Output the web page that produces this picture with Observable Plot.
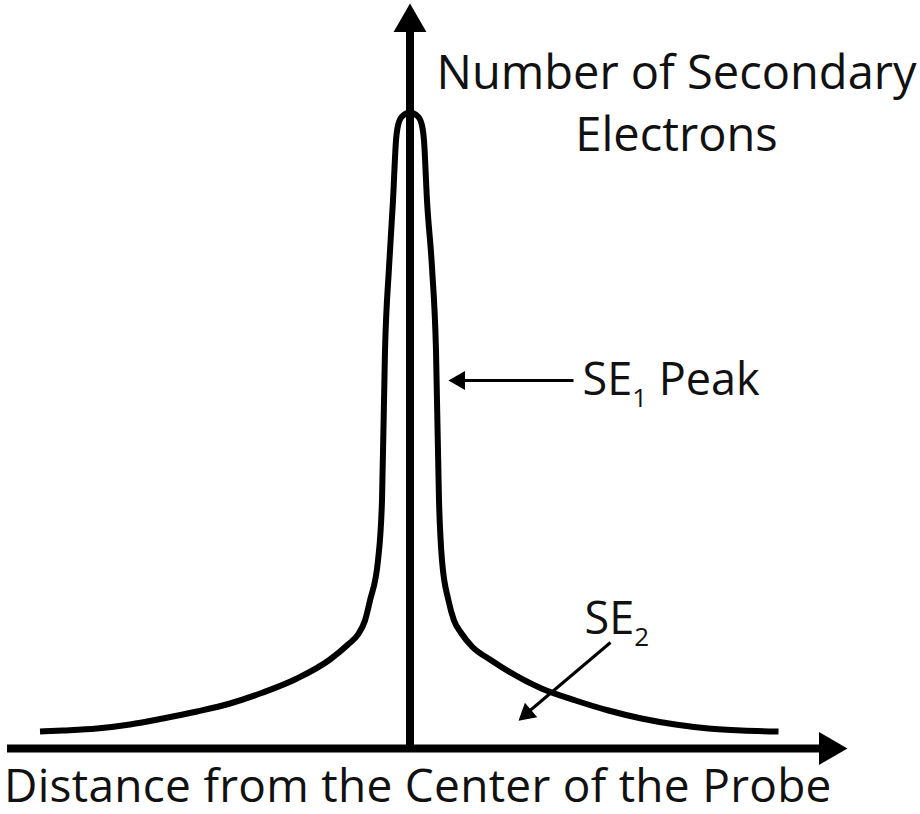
<!DOCTYPE html>
<html>
<head>
<meta charset="utf-8">
<script src="https://cdn.jsdelivr.net/npm/d3@7"></script>
<script src="https://cdn.jsdelivr.net/npm/@observablehq/plot@0.6"></script>
<style>
  html, body { margin: 0; padding: 0; background: #fff; }
</style>
</head>
<body>
<div id="chart"></div>
<script>
// Distance from the probe centre (arbitrary units) and number of secondary electrons
const distance  = [-370, -347, -313, -280, -247, -213, -180, -147, -113, -80, -62, -52, -45, -40, -32, -28, -25, -21, -17, -14, -12, -8, 0,
                   8, 12, 14, 17, 22, 26, 29, 32, 38.5, 44, 51.5, 62, 81.5, 131.5, 165.5, 198.5, 231.5, 265.5, 298.5, 331.5, 368.5];
const electrons = [17, 18, 20, 24, 30, 37, 45, 56, 70, 89, 104, 114, 128, 148, 188, 248, 398, 481, 548, 608, 623, 632, 636,
                   632, 623, 608, 548, 481, 398, 248, 188, 148, 128, 115, 102, 88, 60, 48, 38, 30, 24, 20, 18, 17];

// Labels
const yLabel = "Number of Secondary\nElectrons";
const xLabel = "Distance from the Center of the Probe";
const se1Label = "SE_1 Peak";
const se2Label = "SE_2";

// Axis extents (data units)
const xAxisStart = -402.5, xAxisEnd = 418.5;
const yAxisEnd = 726;

// Annotation pointers: [fromX, fromY, toX, toY]
const se1Pointer = [163.5, 368, 50.5, 368];
const se2Pointer = [200.5, 106, 116.5, 35];

const curve = distance.map((d, i) => ({d, n: electrons[i]}));
const font = "Open Sans";

const plot = Plot.plot({
  width: 920,
  height: 814,
  margin: 0,
  x: {domain: [-409.5, 510.5], axis: null},
  y: {domain: [-66, 748], axis: null},
  marks: [
    // axes
    Plot.ruleY([0], {x1: xAxisStart, x2: xAxisEnd, stroke: "#000", strokeWidth: 8}),
    Plot.ruleX([0], {y1: -4, y2: yAxisEnd, stroke: "#000", strokeWidth: 8}),
    Plot.dot([{x: 0, y: yAxisEnd}], {x: "x", y: "y", symbol: "triangle", r: 12.2, fill: "#000", stroke: null, rotate: 0}),
    Plot.dot([{x: xAxisEnd, y: 0}], {x: "x", y: "y", symbol: "triangle", r: 12.2, fill: "#000", stroke: null, rotate: 90}),
    // curve
    Plot.line(curve, {x: "d", y: "n", curve: "monotone-x", stroke: "#000", strokeWidth: 6, strokeLinecap: "butt", strokeLinejoin: "round"}),
    // annotation arrows
    Plot.link([se1Pointer, se2Pointer], {x1: p => p[0], y1: p => p[1], x2: p => p[2], y2: p => p[3], stroke: "#000", strokeWidth: 3}),
    Plot.dot([se1Pointer], {x: p => p[2] - 1, y: p => p[3], symbol: "triangle", r: 7.1, fill: "#000", stroke: null, rotate: 270}),
    Plot.dot([se2Pointer], {x: p => p[2] + 0.4, y: p => p[3], symbol: "triangle", r: 7.1, fill: "#000", stroke: null, rotate: 229.7}),
    // texts
    Plot.text([yLabel], {text: d => d, x: 266.5, y: 703.5, textAnchor: "middle", lineAnchor: "top", fontSize: 47, lineHeight: 1.32, fontFamily: font, fill: "#111"}),
    Plot.text([xLabel], {text: d => d, x: -406, y: -21, textAnchor: "start", lineAnchor: "top", fontSize: 46, fontFamily: font, fill: "#111"}),
    Plot.text([se1Label], {text: d => d, x: 172.5, y: 385, textAnchor: "start", lineAnchor: "top", fontSize: 45, fontFamily: font, fill: "#111"}),
    Plot.text([se2Label], {text: d => d, x: 174.5, y: 146, textAnchor: "start", lineAnchor: "top", fontSize: 45, fontFamily: font, fill: "#111"})
  ]
});

const ns = "http://www.w3.org/2000/svg";
plot.querySelectorAll("text").forEach(t => {
  // widen the x-axis label a little
  if (t.textContent === xLabel) t.setAttribute("letter-spacing", "0.28");
  // turn "_d" into a subscript
  const m = t.textContent.match(/^(.*)_(\d)(.*)$/);
  if (!m) return;
  t.textContent = "";
  const a = document.createElementNS(ns, "tspan"); a.textContent = m[1]; t.appendChild(a);
  const b = document.createElementNS(ns, "tspan"); b.textContent = m[2];
  b.setAttribute("font-size", "26"); b.setAttribute("dy", "12"); t.appendChild(b);
  if (m[3]) {
    const c = document.createElementNS(ns, "tspan"); c.textContent = m[3];
    c.setAttribute("dy", "-12"); t.appendChild(c);
  }
});

document.getElementById("chart").appendChild(plot);
</script>
</body>
</html>
